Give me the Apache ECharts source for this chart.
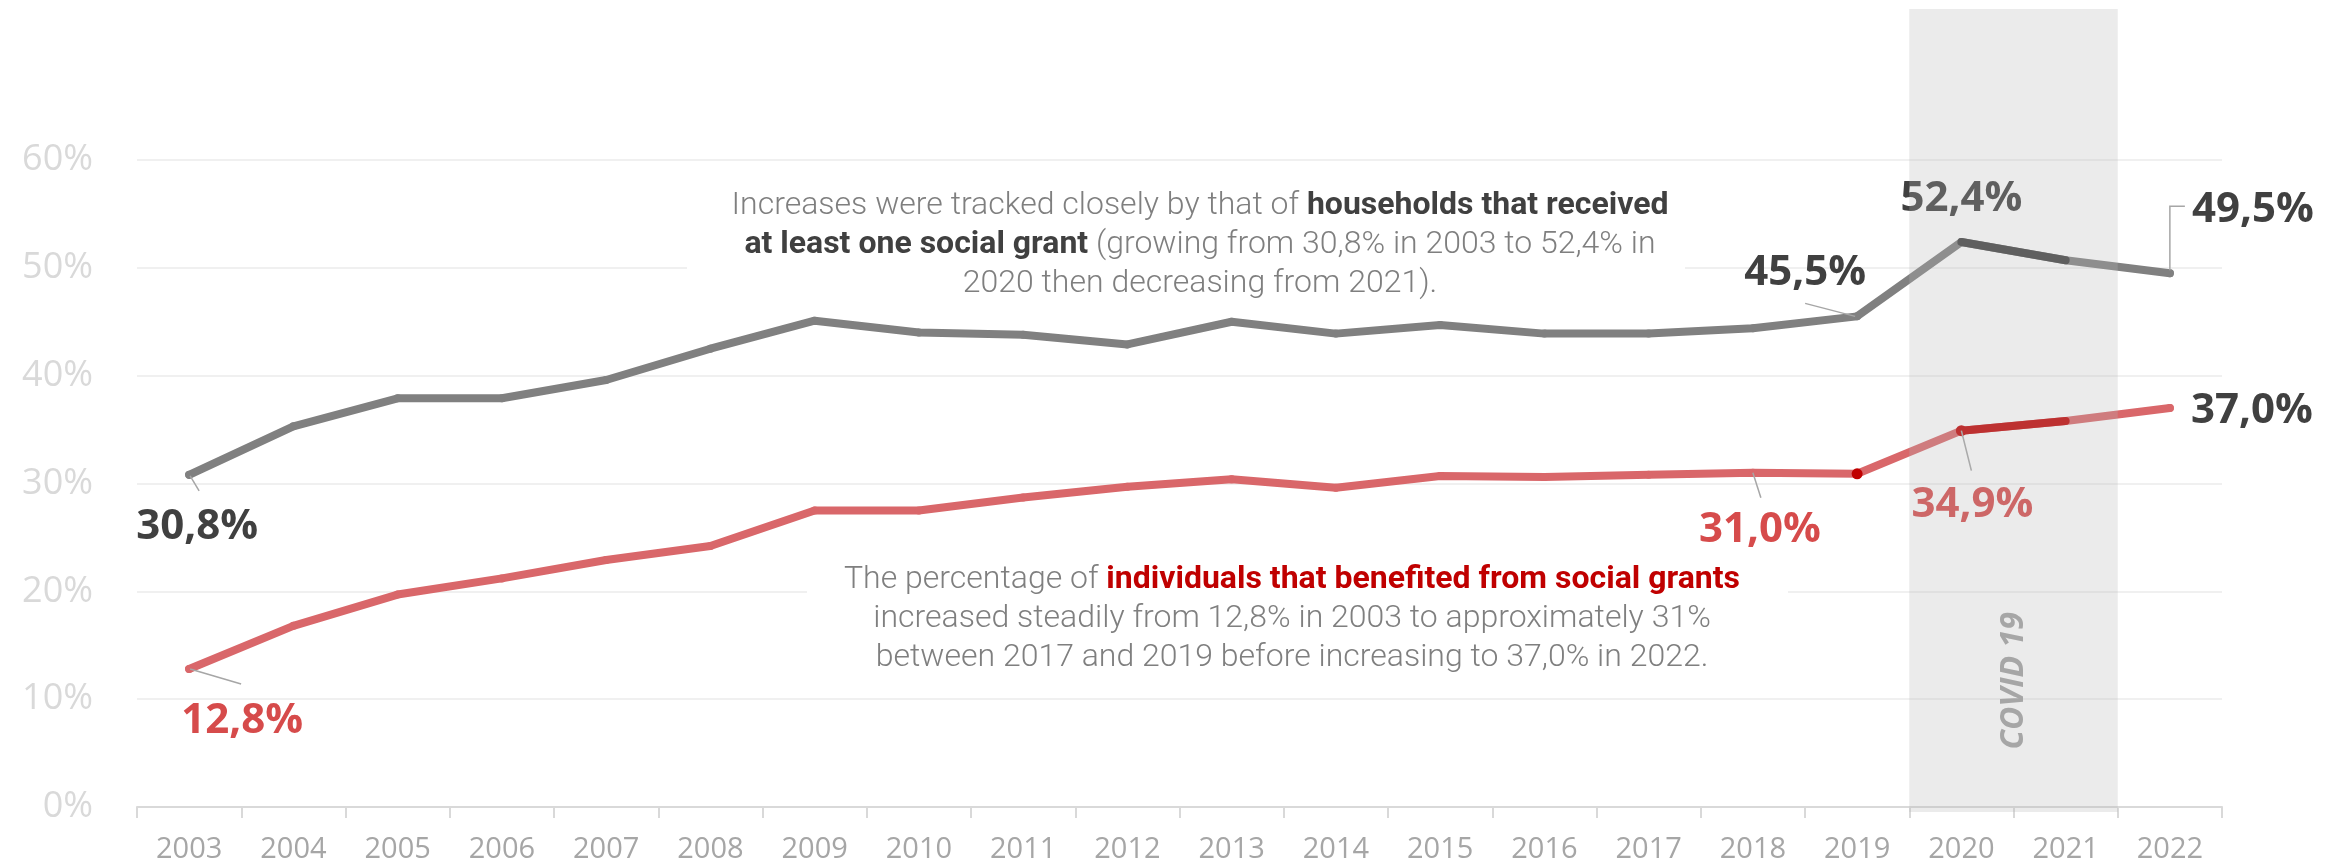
<!DOCTYPE html>
<html>
<head>
<meta charset="utf-8">
<title>Social grants: households and individuals, 2003–2022</title>
<script src="https://cdn.jsdelivr.net/npm/echarts@6/dist/echarts.min.js"></script>
<style>
  html, body { margin: 0; padding: 0; background: #fff; }
  #chart { width: 2343px; height: 865px; }
</style>
</head>
<body>
<div id="chart"></div>
<script>
// ---- data ----
const years = ['2003','2004','2005','2006','2007','2008','2009','2010','2011','2012',
               '2013','2014','2015','2016','2017','2018','2019','2020','2021','2022'];

// share of households that received at least one social grant (%)
const households = [30.8, 35.3, 37.9, 37.9, 39.6, 42.5, 45.1, 44.0, 43.8, 42.9,
                    45.0, 43.9, 44.7, 43.9, 43.9, 44.4, 45.5, 52.4, 50.7, 49.5];

// share of individuals that benefited from social grants (%)
const individuals = [12.8, 16.8, 19.7, 21.2, 22.9, 24.2, 27.5, 27.5, 28.7, 29.7,
                     30.4, 29.6, 30.7, 30.6, 30.8, 31.0, 30.9, 34.9, 35.8, 37.0];

const yTicks = [0, 10, 20, 30, 40, 50, 60];
const covidYears = ['2020', '2021'];

// years whose values are written on the chart
const householdLabelYears = ['2003', '2019', '2020', '2022'];
const individualLabelYears = ['2003', '2018', '2020', '2022'];

// ---- styling / label placement ----
const GRAY = '#808080', GRAY_DARK = '#404040';
const RED = '#d9676a', RED_DARK = '#c00000';
const LABEL_GRAY = '#404040', LABEL_RED = '#d64b4b';
const LEADER = '#a6a6a6';
const FONT = '"Open Sans", "Noto Sans", sans-serif';
const NOTE_FONT = 'Roboto, "Open Sans", sans-serif';

// label offset from its point (px) and leader line path relative to the point
const householdLabelPos = {
  '2003': { dx: 8,   dy: 52,  leader: [[1, 1], [10, 16]] },
  '2019': { dx: -52, dy: -43, leader: [[-2, 0], [-52, -13]] },
  '2020': { dx: 0,   dy: -43, leader: null },
  '2022': { dx: 83,  dy: -63, leader: [[0, -3], [0, -67], [15, -67]] }
};
const individualLabelPos = {
  '2003': { dx: 53, dy: 52, leader: [[1, 0], [52, 15]] },
  '2018': { dx: 7,  dy: 57, leader: [[0, 0], [8, 25]] },
  '2020': { dx: 11, dy: 74, leader: [[0, 0], [10, 40]] },
  '2022': { dx: 82, dy: 3,  leader: null, color: LABEL_GRAY }
};

const fmtPct = v => v.toFixed(1).replace('.', ',') + '%';
const covidIdx = covidYears.map(y => years.indexOf(y));

function buildData(values, labelYears, pos, labelColor, extra) {
  return values.map((v, i) => {
    const yr = years[i];
    const item = { value: v };
    if (labelYears.includes(yr)) {
      item.label = { show: true, color: pos[yr].color || labelColor };
    }
    if (extra && extra[yr]) Object.assign(item, extra[yr]);
    return item;
  });
}

function covidSegment(values) {
  return values.map((v, i) => (i >= covidIdx[0] && i <= covidIdx[1]) ? v : '-');
}

function layoutFor(pos) {
  return function (params) {
    const p = pos[years[params.dataIndex]];
    return p ? { dx: p.dx, dy: p.dy } : {};
  };
}

// leader lines: [category index, value, path index]
const leaderPaths = [];
const leaderData = [];
[[households, householdLabelYears, householdLabelPos],
 [individuals, individualLabelYears, individualLabelPos]].forEach(([vals, yrs, pos]) => {
  yrs.forEach(yr => {
    if (!pos[yr].leader) return;
    const i = years.indexOf(yr);
    leaderData.push([i, vals[i], leaderPaths.length]);
    leaderPaths.push(pos[yr].leader);
  });
});

const labelBase = {
  position: 'inside',
  fontFamily: FONT,
  fontWeight: 'bold',
  fontSize: 42,
  formatter: p => fmtPct(p.value)
};

const lineBase = {
  type: 'line',
  symbol: 'circle',
  symbolSize: 8,
  showSymbol: true,
  showAllSymbol: true,
  silent: true,
  emphasis: { disabled: true },
  animation: false,
  labelLine: { show: false }
};

// annotation block: white panel with centred lines of rich text
function note(cx, cy, lines, panel, richName, richColor) {
  const lh = 39;
  const children = [{
    type: 'rect',
    shape: { x: panel[0], y: panel[1], width: panel[2], height: panel[3] },
    style: { fill: '#ffffff' },
    z: 1
  }];
  lines.forEach((ln, i) => {
    const rich = {};
    rich[richName] = { fill: richColor, fontWeight: 'bold', fontSize: 32, fontFamily: NOTE_FONT };
    children.push({
      type: 'text',
      x: cx,
      y: cy + (i - (lines.length - 1) / 2) * lh,
      z: 2,
      style: {
        text: ln,
        align: 'center',
        verticalAlign: 'middle',
        fill: '#7f7f7f',
        font: '300 32px ' + NOTE_FONT,
        rich: rich
      }
    });
  });
  return { type: 'group', children: children };
}

const chart = echarts.init(document.getElementById('chart'), null, { renderer: 'canvas' });

const option = {
  backgroundColor: '#ffffff',
  animation: false,
  grid: { left: 137, right: 121, top: 160, bottom: 58 },
  xAxis: {
    type: 'category',
    data: years,
    boundaryGap: true,
    axisLine: { lineStyle: { color: '#d9d9d9', width: 2 } },
    axisTick: { show: true, alignWithLabel: false, length: 11, lineStyle: { color: '#d9d9d9', width: 2 } },
    axisLabel: { color: '#a6a6a6', fontFamily: FONT, fontSize: 29, margin: 28 },
    splitLine: { show: false }
  },
  yAxis: {
    type: 'value',
    min: yTicks[0],
    max: yTicks[yTicks.length - 1],
    interval: yTicks[1] - yTicks[0],
    axisLine: { show: false },
    axisTick: { show: false },
    axisLabel: { color: '#d9d9d9', fontFamily: FONT, fontSize: 36, margin: 44, formatter: '{value}%' },
    splitLine: { lineStyle: { color: '#f0f0f0', width: 2 } }
  },
  graphic: [
    note(1200, 245, [
      'Increases were tracked closely by that of {b|households that received}',
      '{b|at least one social grant} (growing from 30,8% in 2003 to 52,4% in',
      '2020 then decreasing from 2021).'
    ], [687, 182, 998, 124], 'b', '#404040'),
    note(1292, 619, [
      'The percentage of {r|individuals that benefited from social grants}',
      'increased steadily from 12,8% in 2003 to approximately 31%',
      'between 2017 and 2019 before increasing to 37,0% in 2022.'
    ], [807, 556, 981, 124], 'r', RED_DARK)
  ],
  series: [
    Object.assign({}, lineBase, {
      name: 'Households',
      z: 3,
      data: buildData(households, householdLabelYears, householdLabelPos, LABEL_GRAY),
      itemStyle: { color: GRAY },
      lineStyle: { color: GRAY, width: 8, cap: 'round', join: 'round' },
      label: labelBase,
      labelLayout: layoutFor(householdLabelPos)
    }),
    Object.assign({}, lineBase, {
      name: 'Households (COVID)',
      z: 4,
      showSymbol: false,
      data: covidSegment(households),
      lineStyle: { color: GRAY_DARK, width: 8, cap: 'round', join: 'round' },
      itemStyle: { color: GRAY_DARK }
    }),
    Object.assign({}, lineBase, {
      name: 'Individuals',
      z: 3,
      data: buildData(individuals, individualLabelYears, individualLabelPos, LABEL_RED,
        { '2019': { symbolSize: 11, itemStyle: { color: RED_DARK } } }),
      itemStyle: { color: RED },
      lineStyle: { color: RED, width: 8, cap: 'round', join: 'round' },
      label: labelBase,
      labelLayout: layoutFor(individualLabelPos)
    }),
    Object.assign({}, lineBase, {
      name: 'Individuals (COVID)',
      z: 4,
      data: covidSegment(individuals).map((v, i) => i === covidIdx[0] ? { value: v, symbolSize: 11 } : v),
      showSymbol: true,
      symbolSize: 0.1,
      lineStyle: { color: RED_DARK, width: 8, cap: 'round', join: 'round' },
      itemStyle: { color: RED_DARK }
    }),
    {
      // thin leader lines joining value labels to their points
      type: 'custom',
      name: 'Leaders',
      z: 5,
      silent: true,
      clip: false,
      data: leaderData,
      encode: { x: 0, y: 1 },
      renderItem: function (params, api) {
        const pt = api.coord([api.value(0), api.value(1)]);
        const path = leaderPaths[api.value(2)];
        return {
          type: 'polyline',
          shape: { points: path.map(d => [pt[0] + d[0], pt[1] + d[1]]) },
          style: { stroke: LEADER, lineWidth: 1.5, fill: null }
        };
      }
    },
    {
      // shaded COVID-19 period drawn over the lines
      type: 'custom',
      name: 'COVID 19',
      z: 10,
      silent: true,
      clip: false,
      data: [[covidIdx[0], covidIdx[1], 0]],
      encode: { x: [0, 1], y: 2 },
      renderItem: function (params, api) {
        const bw = api.size([1, 0])[0];
        const p0 = api.coord([api.value(0), 0]);
        const p1 = api.coord([api.value(1), 0]);
        const top = api.coord([api.value(0), 74])[1];
        const left = p0[0] - bw / 2;
        const right = p1[0] + bw / 2;
        const bottom = p0[1] + 5;
        return {
          type: 'group',
          children: [
            {
              type: 'rect',
              shape: { x: left, y: top, width: right - left, height: bottom - top },
              style: { fill: 'rgba(181,181,181,0.27)' }
            },
            {
              type: 'text',
              x: (left + right) / 2,
              y: api.coord([api.value(0), 11.7])[1],
              rotation: Math.PI / 2,
              style: {
                text: 'COVID 19',
                fill: '#a6a6a6',
                font: 'italic bold 32px "Open Sans", sans-serif',
                align: 'center',
                verticalAlign: 'middle'
              }
            }
          ]
        };
      }
    }
  ]
};

chart.setOption(option);
</script>
</body>
</html>
